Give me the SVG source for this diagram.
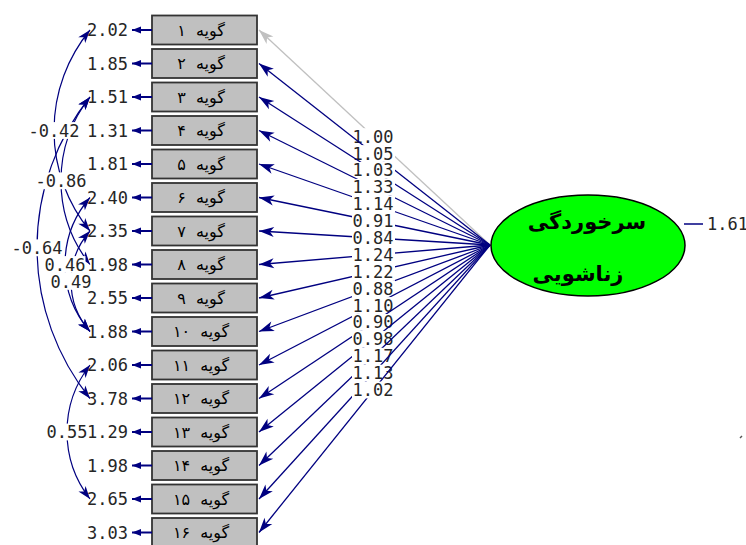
<svg xmlns="http://www.w3.org/2000/svg" width="746" height="545" viewBox="0 0 746 545">
<defs>
<style>
.box{fill:#c0c0c0;stroke:#333;stroke-width:1.8}
.bt{font-family:"DejaVu Sans",sans-serif;font-size:16px;fill:#000;text-anchor:middle;word-spacing:5px}
.num{font-family:"DejaVu Sans Mono","Liberation Mono",monospace;font-size:17px;fill:#262626}
.ev{text-anchor:end}
.mid{text-anchor:middle}
.ld{stroke:#000080;stroke-width:1.3;fill:none;marker-end:url(#ah)}
.ld0{stroke:#c0c0c0;stroke-width:1.3;fill:none;marker-end:url(#ahg)}
.err{stroke:#000080;stroke-width:2;fill:none;marker-end:url(#ahs)}
.cov{stroke:#000080;stroke-width:1.2;fill:none;marker-start:url(#ahc);marker-end:url(#ahc)}
.bg{fill:#fff}
.lt{font-family:"DejaVu Sans",sans-serif;font-size:21px;font-weight:bold;fill:#000;text-anchor:middle}
</style>
<marker id="ah" viewBox="-16 -6 17 12" refX="0" refY="0" markerWidth="17" markerHeight="12" markerUnits="userSpaceOnUse" orient="auto"><path d="M0,0 L-15,-5 L-11,0 L-15,5 Z" fill="#000080"/></marker>
<marker id="ahg" viewBox="-16 -6 17 12" refX="0" refY="0" markerWidth="17" markerHeight="12" markerUnits="userSpaceOnUse" orient="auto"><path d="M0,0 L-15,-5 L-11,0 L-15,5 Z" fill="#c0c0c0"/></marker>
<marker id="ahs" viewBox="-10 -5 11 10" refX="0" refY="0" markerWidth="11" markerHeight="10" markerUnits="userSpaceOnUse" orient="auto"><path d="M0,0 L-9,-3.5 L-9,3.5 Z" fill="#000080"/></marker>
<marker id="ahc" viewBox="-15 -6 16 12" refX="0" refY="0" markerWidth="16" markerHeight="12" markerUnits="userSpaceOnUse" orient="auto-start-reverse"><path d="M0,0 L-13,-4.5 L-9.5,0 L-13,4.5 Z" fill="#000080"/></marker>
</defs>
<rect width="746" height="545" fill="#fff"/>

<g id="n1"><rect class="box" x="152" y="15.5" width="105" height="29"/><text class="bt" x="201" y="35.5">گویه ۱</text></g>
<g id="n2"><rect class="box" x="152" y="49" width="105" height="29"/><text class="bt" x="201" y="69">گویه ۲</text></g>
<g id="n3"><rect class="box" x="152" y="82.5" width="105" height="29"/><text class="bt" x="201" y="102.5">گویه ۳</text></g>
<g id="n4"><rect class="box" x="152" y="116" width="105" height="29"/><text class="bt" x="201" y="136">گویه ۴</text></g>
<g id="n5"><rect class="box" x="152" y="149.5" width="105" height="29"/><text class="bt" x="201" y="169.5">گویه ۵</text></g>
<g id="n6"><rect class="box" x="152" y="183" width="105" height="29"/><text class="bt" x="201" y="203">گویه ۶</text></g>
<g id="n7"><rect class="box" x="152" y="216.5" width="105" height="29"/><text class="bt" x="201" y="236.5">گویه ۷</text></g>
<g id="n8"><rect class="box" x="152" y="250" width="105" height="29"/><text class="bt" x="201" y="270">گویه ۸</text></g>
<g id="n9"><rect class="box" x="152" y="283.5" width="105" height="29"/><text class="bt" x="201" y="303.5">گویه ۹</text></g>
<g id="n10"><rect class="box" x="152" y="317" width="105" height="29"/><text class="bt" x="201" y="337">گویه ۱۰</text></g>
<g id="n11"><rect class="box" x="152" y="350.5" width="105" height="29"/><text class="bt" x="201" y="370.5">گویه ۱۱</text></g>
<g id="n12"><rect class="box" x="152" y="384" width="105" height="29"/><text class="bt" x="201" y="404">گویه ۱۲</text></g>
<g id="n13"><rect class="box" x="152" y="417.5" width="105" height="29"/><text class="bt" x="201" y="437.5">گویه ۱۳</text></g>
<g id="n14"><rect class="box" x="152" y="451" width="105" height="29"/><text class="bt" x="201" y="471">گویه ۱۴</text></g>
<g id="n15"><rect class="box" x="152" y="484.5" width="105" height="29"/><text class="bt" x="201" y="504.5">گویه ۱۵</text></g>
<g id="n16"><rect class="box" x="152" y="518" width="105" height="29"/><text class="bt" x="201" y="538">گویه ۱۶</text></g>

<g id="errors">
<text class="num ev" x="128" y="36.2">2.02</text>
<text class="num ev" x="128" y="69.7">1.85</text>
<text class="num ev" x="128" y="103.2">1.51</text>
<text class="num ev" x="128" y="136.7">1.31</text>
<text class="num ev" x="128" y="170.2">1.81</text>
<text class="num ev" x="128" y="203.7">2.40</text>
<text class="num ev" x="128" y="237.2">2.35</text>
<text class="num ev" x="128" y="270.7">1.98</text>
<text class="num ev" x="128" y="304.2">2.55</text>
<text class="num ev" x="128" y="337.7">1.88</text>
<text class="num ev" x="128" y="371.2">2.06</text>
<text class="num ev" x="128" y="404.7">3.78</text>
<text class="num ev" x="128" y="438.2">1.29</text>
<text class="num ev" x="128" y="471.7">1.98</text>
<text class="num ev" x="128" y="505.2">2.65</text>
<text class="num ev" x="128" y="538.7">3.03</text>
</g>

<g id="connectors">
<g id="error-arrows">
<path class="err" d="M152,30 L132,30"/>
<path class="err" d="M152,63.5 L132,63.5"/>
<path class="err" d="M152,97 L132,97"/>
<path class="err" d="M152,130.5 L132,130.5"/>
<path class="err" d="M152,164 L132,164"/>
<path class="err" d="M152,197.5 L132,197.5"/>
<path class="err" d="M152,231 L132,231"/>
<path class="err" d="M152,264.5 L132,264.5"/>
<path class="err" d="M152,298 L132,298"/>
<path class="err" d="M152,331.5 L132,331.5"/>
<path class="err" d="M152,365 L132,365"/>
<path class="err" d="M152,398.5 L132,398.5"/>
<path class="err" d="M152,432 L132,432"/>
<path class="err" d="M152,465.5 L132,465.5"/>
<path class="err" d="M152,499 L132,499"/>
<path class="err" d="M152,532.5 L132,532.5"/>
</g>
<g id="loadings">
<g><path class="ld0" d="M490,245 L259,30"/><rect class="bg" x="352" y="128.2" width="43" height="16.8"/><text class="num mid" x="373" y="142.6">1.00</text></g>
<g><path class="ld" d="M490,245 L259,63.5"/><rect class="bg" x="352" y="145.1" width="43" height="16.8"/><text class="num mid" x="373" y="159.5">1.05</text></g>
<g><path class="ld" d="M490,245 L259,97"/><rect class="bg" x="352" y="162" width="43" height="16.8"/><text class="num mid" x="373" y="176.4">1.03</text></g>
<g><path class="ld" d="M490,245 L259,130.5"/><rect class="bg" x="352" y="178.9" width="43" height="16.8"/><text class="num mid" x="373" y="193.3">1.33</text></g>
<g><path class="ld" d="M490,245 L259,164"/><rect class="bg" x="352" y="195.8" width="43" height="16.8"/><text class="num mid" x="373" y="210.2">1.14</text></g>
<g><path class="ld" d="M490,245 L259,197.5"/><rect class="bg" x="352" y="212.6" width="43" height="16.8"/><text class="num mid" x="373" y="227">0.91</text></g>
<g><path class="ld" d="M490,245 L259,231"/><rect class="bg" x="352" y="229.5" width="43" height="16.8"/><text class="num mid" x="373" y="243.9">0.84</text></g>
<g><path class="ld" d="M490,245 L259,264.5"/><rect class="bg" x="352" y="246.4" width="43" height="16.8"/><text class="num mid" x="373" y="260.8">1.24</text></g>
<g><path class="ld" d="M490,245 L259,298"/><rect class="bg" x="352" y="263.3" width="43" height="16.8"/><text class="num mid" x="373" y="277.7">1.22</text></g>
<g><path class="ld" d="M490,245 L259,331.5"/><rect class="bg" x="352" y="280.2" width="43" height="16.8"/><text class="num mid" x="373" y="294.6">0.88</text></g>
<g><path class="ld" d="M490,245 L259,365"/><rect class="bg" x="352" y="297.1" width="43" height="16.8"/><text class="num mid" x="373" y="311.5">1.10</text></g>
<g><path class="ld" d="M490,245 L259,398.5"/><rect class="bg" x="352" y="314" width="43" height="16.8"/><text class="num mid" x="373" y="328.4">0.90</text></g>
<g><path class="ld" d="M490,245 L259,432"/><rect class="bg" x="352" y="330.9" width="43" height="16.8"/><text class="num mid" x="373" y="345.3">0.98</text></g>
<g><path class="ld" d="M490,245 L259,465.5"/><rect class="bg" x="352" y="347.8" width="43" height="16.8"/><text class="num mid" x="373" y="362.2">1.17</text></g>
<g><path class="ld" d="M490,245 L259,499"/><rect class="bg" x="352" y="364.7" width="43" height="16.8"/><text class="num mid" x="373" y="379.1">1.13</text></g>
<g><path class="ld" d="M490,245 L259,532.5"/><rect class="bg" x="352" y="381.6" width="43" height="16.8"/><text class="num mid" x="373" y="396">1.02</text></g>
</g>
<g id="covariances">
<path class="cov" d="M90,30 A158.3,158.3 0 0 0 90,231"/>
<path class="cov" d="M90,97 A135.4,135.4 0 0 0 90,264.5"/>
<path class="cov" d="M90,97 A240.9,240.9 0 0 0 90,398.5"/>
<path class="cov" d="M90,197.5 A102.3,102.3 0 0 0 90,331.5"/>
<path class="cov" d="M90,231 A75.9,75.9 0 0 0 90,331.5"/>
<path class="cov" d="M90,365 A109.1,109.1 0 0 0 90,499"/>
<rect class="bg" x="28" y="122.1" width="52" height="16.8"/><text class="num mid" x="54" y="136.7">-0.42</text>
<rect class="bg" x="35" y="172.4" width="52" height="16.8"/><text class="num mid" x="61" y="187">-0.86</text>
<rect class="bg" x="11" y="239.4" width="52" height="16.8"/><text class="num mid" x="37" y="254">-0.64</text>
<rect class="bg" x="44.5" y="256.1" width="41" height="16.8"/><text class="num mid" x="65" y="270.7">0.46</text>
<rect class="bg" x="50.5" y="273" width="41" height="16.8"/><text class="num mid" x="71" y="287.5">0.49</text>
<rect class="bg" x="46.5" y="423.6" width="41" height="16.8"/><text class="num mid" x="67" y="438.2">0.55</text>
</g>
<g id="latent-error"><path d="M684,224 L703,224" stroke="#000080" stroke-width="1.5"/></g>
</g>

<g id="latent">
<ellipse cx="588" cy="245.5" rx="97" ry="50.5" fill="#00ff00" stroke="#000" stroke-width="1.5"/>
<text class="lt" x="587" y="229">سرخوردگی</text>
<text class="lt" x="578" y="281">زناشویی</text>
</g>
<text class="num" x="707" y="230.2">1.61</text>
<path d="M740,438 l2,-2" stroke="#555" stroke-width="1.5"/>
</svg>
